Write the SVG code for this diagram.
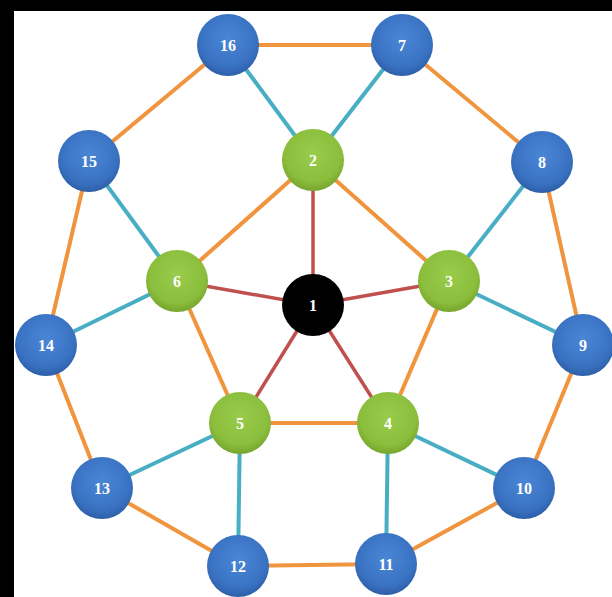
<svg xmlns="http://www.w3.org/2000/svg" width="612" height="597" viewBox="0 0 612 597">
<defs>
<radialGradient id="gBlue" cx="50%" cy="40%" r="60%">
<stop offset="0" stop-color="#4A86D6"/>
<stop offset="0.75" stop-color="#3A72C2"/>
<stop offset="1" stop-color="#2D5FA8"/>
</radialGradient>
<radialGradient id="gGreen" cx="50%" cy="40%" r="60%">
<stop offset="0" stop-color="#9ACB4B"/>
<stop offset="0.75" stop-color="#8BBE3C"/>
<stop offset="1" stop-color="#76A52E"/>
</radialGradient>
<style>
.o{stroke:#F0943E;stroke-width:4;fill:none}
.t{stroke:#48AEC4;stroke-width:4;fill:none}
.r{stroke:#C0504D;stroke-width:3.5;fill:none}
.b{fill:url(#gBlue)}
.g{fill:url(#gGreen)}
.k{fill:#000}
text{font-family:"Liberation Serif",serif;font-weight:bold;font-size:16px;fill:#fff;text-anchor:middle;dominant-baseline:central}
</style>
</defs>
<rect x="0" y="0" width="612" height="597" fill="#fff"/>
<rect x="0" y="0" width="612" height="11" fill="#000"/>
<rect x="0" y="0" width="14" height="597" fill="#000"/>
<g id="connectors">
<line class="o" x1="228" y1="45" x2="402" y2="45"/>
<line class="o" x1="402" y1="45" x2="542" y2="162"/>
<line class="o" x1="542" y1="162" x2="583" y2="345"/>
<line class="o" x1="583" y1="345" x2="524" y2="488"/>
<line class="o" x1="524" y1="488" x2="386" y2="564"/>
<line class="o" x1="386" y1="564" x2="238" y2="566"/>
<line class="o" x1="238" y1="566" x2="102" y2="488"/>
<line class="o" x1="102" y1="488" x2="46" y2="345"/>
<line class="o" x1="46" y1="345" x2="89" y2="161"/>
<line class="o" x1="89" y1="161" x2="228" y2="45"/>
<line class="t" x1="228" y1="45" x2="313" y2="160"/>
<line class="t" x1="402" y1="45" x2="313" y2="160"/>
<line class="t" x1="542" y1="162" x2="449" y2="281"/>
<line class="t" x1="583" y1="345" x2="449" y2="281"/>
<line class="t" x1="524" y1="488" x2="388" y2="423"/>
<line class="t" x1="386" y1="564" x2="388" y2="423"/>
<line class="t" x1="238" y1="566" x2="240" y2="423"/>
<line class="t" x1="102" y1="488" x2="240" y2="423"/>
<line class="t" x1="46" y1="345" x2="177" y2="281"/>
<line class="t" x1="89" y1="161" x2="177" y2="281"/>
<line class="o" x1="313" y1="160" x2="449" y2="281"/>
<line class="o" x1="449" y1="281" x2="388" y2="423"/>
<line class="o" x1="388" y1="423" x2="240" y2="423"/>
<line class="o" x1="240" y1="423" x2="177" y2="281"/>
<line class="o" x1="177" y1="281" x2="313" y2="160"/>
<line class="r" x1="313" y1="305" x2="313" y2="160"/>
<line class="r" x1="313" y1="305" x2="449" y2="281"/>
<line class="r" x1="313" y1="305" x2="388" y2="423"/>
<line class="r" x1="313" y1="305" x2="240" y2="423"/>
<line class="r" x1="313" y1="305" x2="177" y2="281"/>
</g>
<g id="node1"><circle class="k" cx="313" cy="305" r="31"/><text x="313" y="305">1</text></g>
<g id="node2"><circle class="g" cx="313" cy="160" r="31"/><text x="313" y="160">2</text></g>
<g id="node3"><circle class="g" cx="449" cy="281" r="31"/><text x="449" y="281">3</text></g>
<g id="node4"><circle class="g" cx="388" cy="423" r="31"/><text x="388" y="423">4</text></g>
<g id="node5"><circle class="g" cx="240" cy="423" r="31"/><text x="240" y="423">5</text></g>
<g id="node6"><circle class="g" cx="177" cy="281" r="31"/><text x="177" y="281">6</text></g>
<g id="node7"><circle class="b" cx="402" cy="45" r="31"/><text x="402" y="45">7</text></g>
<g id="node8"><circle class="b" cx="542" cy="162" r="31"/><text x="542" y="162">8</text></g>
<g id="node9"><circle class="b" cx="583" cy="345" r="31"/><text x="583" y="345">9</text></g>
<g id="node10"><circle class="b" cx="524" cy="488" r="31"/><text x="524" y="488">10</text></g>
<g id="node11"><circle class="b" cx="386" cy="564" r="31"/><text x="386" y="564">11</text></g>
<g id="node12"><circle class="b" cx="238" cy="566" r="31"/><text x="238" y="566">12</text></g>
<g id="node13"><circle class="b" cx="102" cy="488" r="31"/><text x="102" y="488">13</text></g>
<g id="node14"><circle class="b" cx="46" cy="345" r="31"/><text x="46" y="345">14</text></g>
<g id="node15"><circle class="b" cx="89" cy="161" r="31"/><text x="89" y="161">15</text></g>
<g id="node16"><circle class="b" cx="228" cy="45" r="31"/><text x="228" y="45">16</text></g>
</svg>
